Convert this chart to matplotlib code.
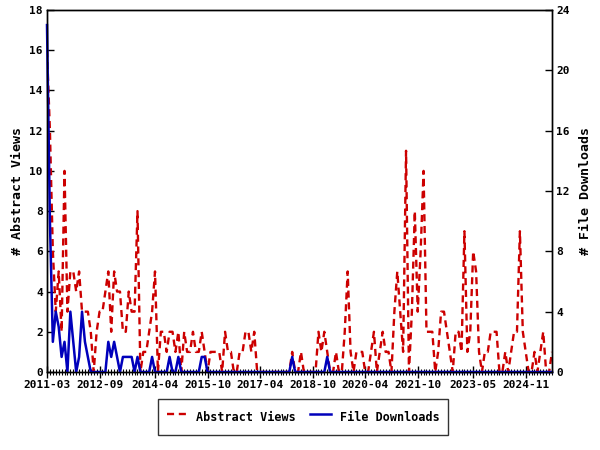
import numpy as np
import pandas as pd
import matplotlib
matplotlib.use("Agg")
import matplotlib.pyplot as plt
from matplotlib.ticker import FixedLocator, MultipleLocator

plt.rcParams['font.family'] = ['DejaVu Sans Mono']
plt.rcParams['font.weight'] = 'bold'

# meses desde 2011-03
meses = pd.period_range("2011-03", periods=174, freq="M").strftime("%Y-%m").tolist()

# abstract views por mes
abstract_views = [
    16, 12, 6, 3, 5, 2, 10, 3, 5, 5, 4, 5,
    3, 3, 3, 2, 0, 2, 3, 3, 4, 5, 2, 5,
    4, 4, 2, 2, 4, 3, 3, 8, 0, 1, 1, 2,
    3, 5, 0, 2, 2, 1, 2, 2, 1, 2, 0, 2,
    1, 1, 2, 1, 1, 2, 1, 0, 1, 1, 1, 1,
    0, 2, 1, 1, 0, 0, 1, 1, 2, 2, 1, 2,
    0, 0, 0, 0, 0, 0, 0, 0, 0, 0, 0, 0,
    1, 0, 0, 1, 0, 0, 0, 0, 0, 2, 1, 2,
    1, 0, 0, 1, 0, 0, 2, 5, 1, 0, 1, 1,
    1, 0, 0, 1, 2, 0, 1, 2, 1, 1, 0, 3,
    5, 3, 1, 11, 0, 3, 8, 3, 6, 10, 2, 2,
    2, 0, 1, 3, 3, 2, 1, 0, 2, 2, 1, 7,
    1, 2, 6, 5, 1, 0, 1, 1, 2, 2, 2, 0,
    0, 1, 0, 1, 2, 2, 7, 2, 1, 0, 0, 1,
    0, 1, 2, 0, 0, 1,
]

# file downloads por mes
file_downloads = [
    23, 10, 2, 4, 3, 1, 2, 0, 4, 2, 0, 1,
    4, 2, 1, 0, 0, 0, 0, 0, 0, 2, 1, 2,
    1, 0, 1, 1, 1, 1, 0, 1, 0, 0, 0, 0,
    1, 0, 0, 0, 0, 0, 1, 0, 0, 1, 0, 0,
    0, 0, 0, 0, 0, 1, 1, 0, 0, 0, 0, 0,
    0, 0, 0, 0, 0, 0, 0, 0, 0, 0, 0, 0,
    0, 0, 0, 0, 0, 0, 0, 0, 0, 0, 0, 0,
    1, 0, 0, 0, 0, 0, 0, 0, 0, 0, 0, 0,
    1, 0, 0, 0, 0, 0, 0, 0, 0, 0, 0, 0,
    0, 0, 0, 0, 0, 0, 0, 0, 0, 0, 0, 0,
    0, 0, 0, 0, 0, 0, 0, 0, 0, 0, 0, 0,
    0, 0, 0, 0, 0, 0, 0, 0, 0, 0, 0, 0,
    0, 0, 0, 0, 0, 0, 0, 0, 0, 0, 0, 0,
    0, 0, 0, 0, 0, 0, 0, 0, 0, 0, 0, 0,
    0, 0, 0, 0, 0, 0,
]

etiquetas_x = ["2011-03", "2012-09", "2014-04", "2015-10", "2017-04",
               "2018-10", "2020-04", "2021-10", "2023-05", "2024-11"]

x = np.arange(len(meses))
pos_etiquetas = [meses.index(e) for e in etiquetas_x]

fig = plt.figure(figsize=(6, 4.5), dpi=100)
ax = fig.add_axes([47/600, 1-372/450, (552-47)/600, (372-10)/450])
ax2 = ax.twinx()

l1, = ax.plot(x, abstract_views, color="#cc0000", lw=1.7, linestyle=(0, (3, 2)),
              label="Abstract Views")
l2, = ax2.plot(x, file_downloads, color="#0000bb", lw=1.8, label="File Downloads",
               clip_on=False)

ax.set_xlim(0, len(meses)-1)
ax.set_ylim(0, 18)
ax2.set_ylim(0, 24)
ax.yaxis.set_major_locator(MultipleLocator(2))
ax2.yaxis.set_major_locator(MultipleLocator(4))

ax.xaxis.set_major_locator(FixedLocator(pos_etiquetas))
ax.set_xticklabels(etiquetas_x)
ax.xaxis.set_minor_locator(MultipleLocator(1))

ax.tick_params(axis="x", which="major", direction="inout", length=8, width=1, labelsize=8, pad=2)
ax.tick_params(axis="x", which="minor", direction="inout", length=5, width=0.8)
ax.tick_params(axis="y", direction="in", length=5, width=1, labelsize=8, pad=3)
ax2.tick_params(axis="y", direction="in", length=5, width=1, labelsize=8, pad=3)

for a in (ax, ax2):
    for s in a.spines.values():
        s.set_linewidth(1)
        s.set_color("black")

ax.set_ylabel("# Abstract Views", fontsize=9.5, fontweight="bold", labelpad=4)
ax2.set_ylabel("# File Downloads", fontsize=9.5, fontweight="bold", labelpad=7)

leg = fig.legend(handles=[l1, l2], loc="center", bbox_to_anchor=(303/600, 1-417/450),
                 ncol=2, frameon=True, fancybox=False, fontsize=8.5,
                 handlelength=1.8, handleheight=2.2, columnspacing=1.2,
                 borderpad=0.7, handletextpad=0.7)
leg.get_frame().set_edgecolor("black")
leg.get_frame().set_linewidth(1)

fig.savefig("out.png", dpi=100)
